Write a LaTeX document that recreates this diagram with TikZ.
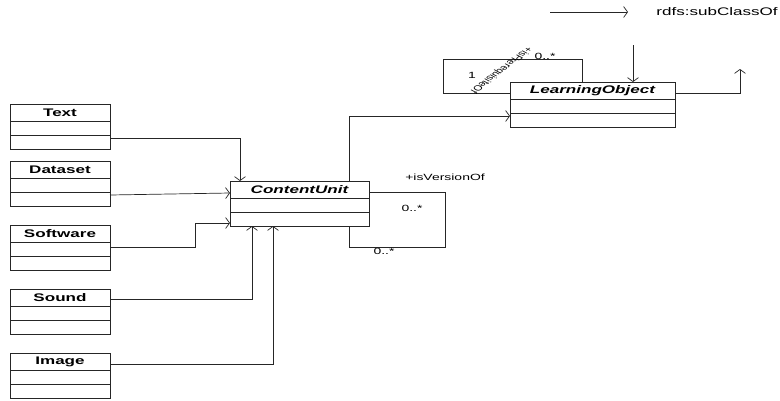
\documentclass[tikz,border=0pt]{standalone}
\usepackage{fontspec}
\usepackage{tikz}
\usetikzlibrary{arrows.meta}
\newfontfamily\umlfont[FakeStretch=1.55]{Liberation Sans}
\newfontfamily\plainfont{Liberation Sans}
\tikzset{
  classbox/.style={draw, rectangle, minimum height=45pt, inner sep=0pt, outer sep=0pt},
  classtitle/.style={inner sep=0pt, text=black, font=\umlfont\fontsize{11}{13}\selectfont\bfseries},
  assoclabel/.style={inner sep=1pt, text=black, font=\umlfont\fontsize{9}{11}\selectfont},
  subarrow/.style={-{Straight Barb[length=4pt,width=11pt]}},
}
\newcommand{\umlclass}[5]{
  \node[classbox, minimum width=#4, anchor=north west] (#1) at (#2,#3) {};
  \draw ([yshift=-17pt]#1.north west) -- ([yshift=-17pt]#1.north east);
  \draw ([yshift=-31pt]#1.north west) -- ([yshift=-31pt]#1.north east);
  \node[classtitle] (#1-title) at ([yshift=-8.5pt]#1.north) {#5};
}
\begin{document}
\begin{tikzpicture}[x=1pt, y=-1pt, color=black!85, line width=0.7pt]
\useasboundingbox (0,0) rectangle (780,400);
\umlclass{text}{10}{104}{100pt}{Text}
\umlclass{dataset}{10}{161}{100pt}{Dataset}
\umlclass{software}{10}{225}{100pt}{Software}
\umlclass{sound}{10}{289}{100pt}{Sound}
\umlclass{image}{10}{353}{100pt}{Image}
\umlclass{cu}{230}{181}{139pt}{\itshape ContentUnit}
\umlclass{lo}{510}{82}{165pt}{\itshape LearningObject}
% subclasses of ContentUnit
\draw[subarrow] ([yshift=11pt]text.south east) -| ([xshift=10pt]cu.north west);
\draw[subarrow] ([yshift=11pt]dataset.south east) -- ([yshift=-12pt]cu.north west);
\draw[subarrow] ([yshift=23pt]software.south east) -- ++(85,0) |- ([yshift=3pt]cu.south west);
\draw[subarrow] ([yshift=-10pt]sound.north east) -| ([xshift=22pt]cu.south west);
\draw[subarrow] ([yshift=-11pt]image.north east) -| ([xshift=43pt]cu.south west);
\draw[subarrow] ([xshift=-20pt]cu.north east) |- ([yshift=11pt]lo.south west);
% isVersionOf
\draw ([yshift=-11pt]cu.north east) -- ++(76,0) -- ++(0,55) -| ([xshift=-20pt]cu.south east);
\node[assoclabel] (isversion) at (445,177) {+isVersionOf};
\node[assoclabel] (vermulta) at (412,208) {0..*};
\node[assoclabel] (vermultb) at (384,251) {0..*};
% isPrerequisiteOf
\draw ([yshift=-11pt]lo.north west) -- ++(-67,0) -- ++(0,-34) -| ([xshift=72pt]lo.north west);
\node[assoclabel] (premulta) at (472,75) {1};
\node[assoclabel] (premultb) at (545,56) {0..*};
\node[inner sep=0pt, text=black] (prereq) at (501,70) {\scalebox{1.55}[1]{\rotatebox{230}{\plainfont\fontsize{7.5}{9}\selectfont +isPrerequisiteOf}}};
% LearningObject
\coordinate (lotop) at (633,45);
\coordinate (loup) at (740,69);
\draw[subarrow] (lotop) -- ([xshift=123pt]lo.north west);
\draw[subarrow] ([yshift=-11pt]lo.north east) -| (loup);
% legend
\coordinate (legstart) at (550,12);
\node[assoclabel, anchor=west, font=\umlfont\fontsize{11}{13}\selectfont] (legend) at (655,12) {rdfs:subClassOf};
\draw[subarrow] (legstart) -- ([xshift=-27pt]legend.west);
\end{tikzpicture}
\end{document}
